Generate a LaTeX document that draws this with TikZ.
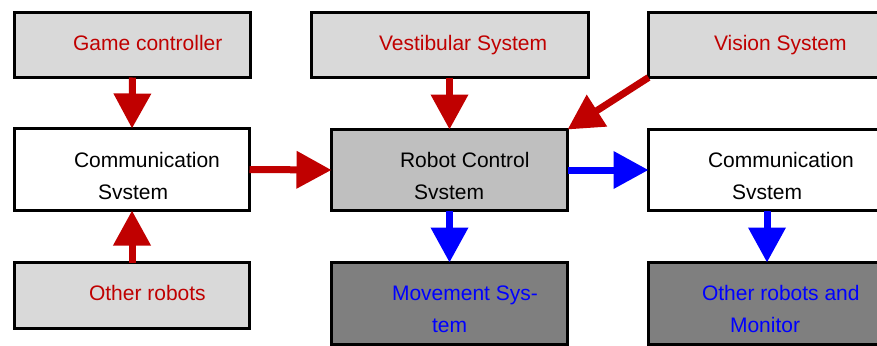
\documentclass[tikz,border=0pt]{standalone}
\usepackage{fontspec}
\setmainfont{Liberation Sans}
\usetikzlibrary{arrows.meta}
\definecolor{dred}{RGB}{192,0,0}
\definecolor{dblue}{RGB}{0,0,255}
\definecolor{lgray}{RGB}{217,217,217}
\definecolor{mgray}{RGB}{191,191,191}
\definecolor{kgray}{RGB}{127,127,127}
\tikzset{
  box/.style={draw=black, line width=3pt, inner sep=0pt, outer sep=0pt, rectangle},
  lbl/.style={anchor=base west, inner sep=0pt, outer sep=0pt, font=\fontsize{21}{32}\selectfont},
  fat/.style={line width=7pt, -{Triangle[length=35pt,width=36pt]}},
  redarrow/.style={fat, draw=dred, fill=dred},
  bluearrow/.style={fat, draw=dblue, fill=dblue}
}
\begin{document}
\begin{tikzpicture}[x=1pt,y=-1pt]
\useasboundingbox (0,0) rectangle (877,345);
\clip (0,0) rectangle (877,345);
% boxes
\node[box, fill=lgray, minimum width=236pt, minimum height=65pt] (gc) at (132.5,45) {};
\node[box, fill=lgray, minimum width=277pt, minimum height=65pt] (vs) at (450,45) {};
\node[box, fill=lgray, minimum width=237pt, minimum height=65pt] (vis) at (767,45) {};
\node[box, fill=white, minimum width=235pt, minimum height=82pt] (cl) at (132,169.5) {};
\node[box, fill=mgray, minimum width=236pt, minimum height=81pt] (rc) at (449.5,170) {};
\node[box, fill=white, minimum width=237pt, minimum height=81pt] (cr) at (767,170) {};
\node[box, fill=lgray, minimum width=235pt, minimum height=66pt] (ot) at (132,295.5) {};
\node[box, fill=kgray, minimum width=236pt, minimum height=82pt] (mv) at (449.5,303.5) {};
\node[box, fill=kgray, minimum width=237pt, minimum height=82pt] (om) at (767,303.5) {};
% labels
\node[lbl, text=dred] (tgc) at (73,50) {Game controller};
\node[lbl, text=dred] (tvs) at (379,50) {Vestibular System};
\node[lbl, text=dred] (tvis) at (714,50) {Vision System};
\node[lbl] (tcl1) at (74,167) {Communication};
\node[lbl] (tcl2) at (98,199) {Svstem};
\node[lbl] (trc1) at (400,167) {Robot Control};
\node[lbl] (trc2) at (414,199) {Svstem};
\node[lbl] (tcr1) at (708,167) {Communication};
\node[lbl] (tcr2) at (732,199) {Svstem};
\node[lbl, text=dred] (tot) at (89,300) {Other robots};
\node[lbl, text=dblue] (tmv1) at (392,300) {Movement Sys-};
\node[lbl, text=dblue] (tmv2) at (432,332) {tem};
\node[lbl, text=dblue] (tom1) at (702,300) {Other robots and};
\node[lbl, text=dblue] (tom2) at (730,332) {Monitor};
% arrows
\draw[redarrow] (gc.south) -- (cl.north);
\draw[redarrow] (ot.north) -- (cl.south);
\draw[redarrow] (vs.south -| rc.north) -- (rc.north);
\draw[redarrow] (cl.east) -- (rc.west);
\draw[redarrow] (vis.south west) -- (rc.north east);
\draw[bluearrow] (rc.east) -- (cr.west);
\draw[bluearrow] (rc.south) -- (mv.north);
\draw[bluearrow] (cr.south) -- (om.north);
\end{tikzpicture}
\end{document}
